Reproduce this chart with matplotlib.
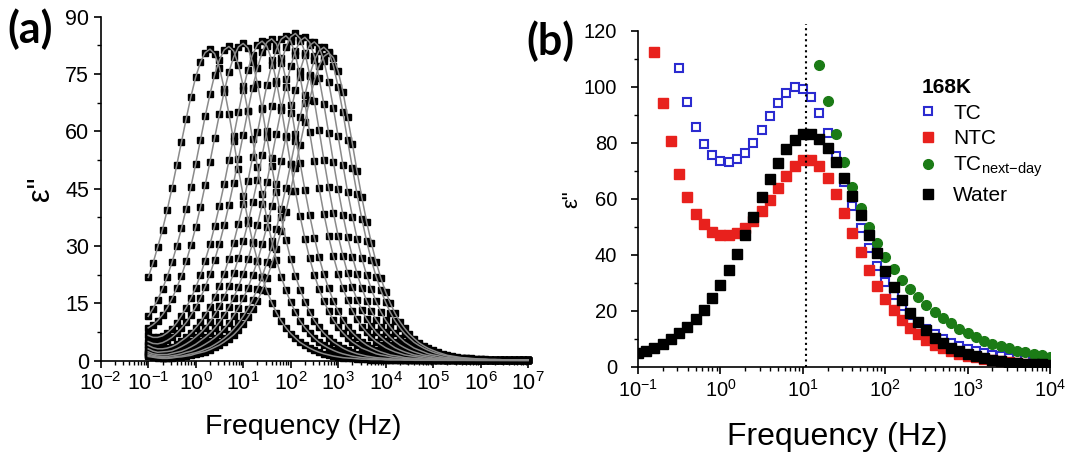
import matplotlib
matplotlib.use("Agg")
import matplotlib.pyplot as plt
from matplotlib.ticker import LogLocator, MultipleLocator, NullFormatter

plt.rcParams['font.family'] = ['Liberation Sans', 'DejaVu Sans']
plt.rcParams['mathtext.fontset'] = 'custom'
plt.rcParams['mathtext.rm'] = 'Liberation Sans'
plt.rcParams['mathtext.it'] = 'Liberation Sans:italic'
plt.rcParams['mathtext.bf'] = 'Liberation Sans:bold'

# measurement frequencies, 10 points per decade
mant = [1.0, 1.26, 1.58, 2.0, 2.51, 3.16, 3.98, 5.01, 6.31, 7.94]
freq_a = [m * 10.0 ** e for e in range(-1, 7) for m in mant] + [1e7]
freq_b = [m * 10.0 ** e for e in range(-1, 4) for m in mant] + [1e4]

# ---- panel (a): eps'' spectra, one list per temperature ----
tail = [0.5, 0.4, 0.4, 0.3, 0.3, 0.3, 0.2, 0.2, 0.2, 0.2, 0.2, 0.2,
        0.1, 0.1, 0.1, 0.1, 0.1, 0.1, 0.1, 0.1, 0.1, 0.1, 0.1, 0.1,
        0.1, 0.1, 0.1, 0.1, 0.1, 0.1, 0.1, 0.1, 0.1, 0.1, 0.1, 0.1,
        0.1, 0.1, 0.1, 0.1]

eps_a_1 = [21.8, 25.5, 29.7, 34.3, 39.4, 45.1, 51.1, 57.2, 63.3, 69.1, 74.2, 78.1, 80.6, 81.5,
           80.3, 76.7, 71.2, 64.6, 57.4, 50.1, 43.2, 36.8, 31.1, 26.2, 21.8, 18.3, 15.2, 12.6,
           10.4, 8.6, 7.1, 5.9, 4.8, 4.0, 3.3, 2.7, 2.2, 1.8, 1.5, 1.2, 1.0, 0.8, 0.7, 0.6]
eps_a_2 = [11.6, 13.6, 16.0, 18.8, 22.0, 25.7, 29.9, 34.6, 39.8, 45.5, 51.5, 57.7, 63.9, 69.7,
           74.8, 78.7, 81.3, 82.2,
           81.0, 77.4, 71.8, 65.2, 57.9, 50.6, 43.6, 37.2, 31.4, 26.4, 22.0, 18.4, 15.3, 12.7,
           10.4, 8.6, 7.2, 5.9, 4.8, 4.0, 3.3, 2.7, 2.2, 1.8, 1.5, 1.2, 1.0, 0.8, 0.7, 0.6]
eps_a_3 = [8.6, 9.4, 10.5, 12.0, 13.8, 16.2, 19.0, 22.2, 26.0, 30.2, 34.9, 40.2, 45.9, 52.0,
           58.3, 64.5, 70.4, 75.5, 79.5, 82.1, 83.0,
           81.8, 78.1, 72.5, 65.8, 58.4, 51.0, 44.0, 37.5, 31.7, 26.6, 22.2, 18.6, 15.4, 12.8,
           10.5, 8.7, 7.2, 6.0, 4.9, 4.1, 3.3, 2.7, 2.2, 1.8, 1.5, 1.2, 1.0, 0.8, 0.7, 0.6]
eps_a_4 = [6.6, 6.1, 6.1, 6.5, 7.3, 8.4, 9.9, 11.8, 13.9, 16.3, 19.1, 22.4, 26.2, 30.4, 35.2,
           40.5, 46.2, 52.4, 58.7, 65.0, 70.9, 76.1, 80.1, 82.7, 83.6,
           82.3, 78.7, 73.1, 66.3, 58.9, 51.4, 44.3, 37.8, 31.9, 26.8, 22.4, 18.7, 15.5, 12.9,
           10.6, 8.8, 7.3, 6.0, 4.9, 4.1, 3.3, 2.8, 2.3, 1.8, 1.5, 1.3, 1.0, 0.8, 0.7, 0.6]
eps_a_5 = [5.0, 4.5, 4.4, 4.7, 5.3, 6.1, 7.2, 8.5, 10.0, 11.9, 14.0, 16.4, 19.3, 22.6, 26.4,
           30.6, 35.4, 40.8, 46.6, 52.8, 59.1, 65.4, 71.4, 76.6, 80.7, 83.3, 84.2,
           82.9, 79.2, 73.6, 66.8, 59.3, 51.8, 44.6, 38.1, 32.2, 27.0, 22.6, 18.9, 15.7, 13.0,
           10.7, 8.8, 7.3, 6.1, 5.0, 4.1, 3.4, 2.8, 2.3, 1.9, 1.5, 1.3, 1.1, 0.8, 0.7, 0.6]
eps_a_6 = [4.0, 3.4, 3.1, 3.1, 3.3, 3.7, 4.3, 5.2, 6.1, 7.2, 8.6, 10.1, 12.0, 14.1, 16.6, 19.5,
           22.8, 26.6, 30.9, 35.8, 41.1, 47.0, 53.3, 59.7, 66.0, 72.1, 77.4, 81.4, 84.1, 85.0,
           83.7, 80.0, 74.3, 67.4, 59.8, 52.3, 45.1, 38.4, 32.5, 27.3, 22.8, 19.0, 15.8, 13.1,
           10.8, 8.9, 7.4, 6.1, 5.0, 4.2, 3.4, 2.8, 2.3, 1.9, 1.5, 1.3, 1.1, 0.9, 0.7, 0.6]
eps_a_7 = [3.1, 2.5, 2.2, 2.3, 2.4, 2.6, 3.1, 3.7, 4.4, 5.2, 6.2, 7.3, 8.6, 10.2, 12.1, 14.2,
           16.7, 19.6, 22.9, 26.8, 31.2, 36.0, 41.4, 47.3, 53.7, 60.1, 66.5, 72.6, 77.9, 82.0,
           84.7, 85.6,
           84.3, 80.6, 74.8, 67.9, 60.3, 52.6, 45.4, 38.7, 32.7, 27.5, 22.9, 19.2, 15.9, 13.2,
           10.9, 9.0, 7.4, 6.2, 5.1, 4.2, 3.4, 2.8, 2.3, 1.9, 1.5, 1.3, 1.1, 0.9, 0.7, 0.6]
eps_a_8 = [2.3, 1.8, 1.6, 1.6, 1.6, 1.9, 2.2, 2.5, 3.0, 3.6, 4.3, 5.2, 6.1, 7.2, 8.5, 10.1,
           11.9, 14.0, 16.5, 19.4, 22.7, 26.5, 30.8, 35.6, 40.9, 46.8, 53.0, 59.4, 65.7, 71.7,
           77.0, 81.0, 83.7, 84.6,
           83.3, 79.6, 73.9, 67.1, 59.6, 52.0, 44.8, 38.2, 32.3, 27.2, 22.7, 19.0, 15.7, 13.0,
           10.7, 8.9, 7.4, 6.1, 5.0, 4.1, 3.4, 2.8, 2.3, 1.9, 1.5, 1.3, 1.1, 0.8, 0.7, 0.6]
eps_a_9 = [1.8, 1.4, 1.2, 1.1, 1.1, 1.3, 1.5, 1.8, 2.2, 2.5, 3.0, 3.6, 4.3, 5.1, 6.0, 7.1, 8.4,
           9.9, 11.8, 13.8, 16.3, 19.1, 22.4, 26.1, 30.4, 35.1, 40.4, 46.1, 52.3, 58.5, 64.8,
           70.7, 75.9, 79.9, 82.5, 83.4,
           82.1, 78.5, 72.9, 66.1, 58.7, 51.3, 44.2, 37.7, 31.9, 26.8, 22.4, 18.7, 15.5, 12.8,
           10.6, 8.8, 7.3, 6.0, 4.9, 4.1, 3.3, 2.8, 2.3, 1.8, 1.5, 1.3, 1.0, 0.8, 0.7, 0.6]
eps_a_10 = [1.4, 1.1, 0.9, 0.8, 0.7, 0.9, 1.1, 1.2, 1.5, 1.8, 2.1, 2.5, 3.0, 3.5, 4.2, 5.0,
            5.9, 7.0, 8.3, 9.8, 11.6, 13.6, 16.0, 18.8, 22.0, 25.7, 29.8, 34.5, 39.7, 45.3,
            51.4, 57.6, 63.7, 69.5, 74.6, 78.6, 81.1, 82.0,
            80.8, 77.2, 71.7, 65.0, 57.7, 50.4, 43.5, 37.1, 31.3, 26.3, 22.0, 18.4, 15.3, 12.6,
            10.4, 8.6, 7.1, 5.9, 4.8, 4.0, 3.3, 2.7, 2.2, 1.8, 1.5, 1.2, 1.0, 0.8, 0.7, 0.6]
eps_a_11 = [1.1, 0.9, 0.7, 0.6, 0.6, 0.7, 0.9, 1.0, 1.2, 1.4, 1.8, 2.1, 2.4, 2.9, 3.5, 4.1,
            4.9, 5.8, 6.8, 8.1, 9.6, 11.4, 13.4, 15.7, 18.4, 21.6, 25.2, 29.3, 33.9, 39.0,
            44.5, 50.5, 56.5, 62.5, 68.3, 73.3, 77.1, 79.6, 80.5,
            79.3, 75.8, 70.4, 63.8, 56.7, 49.5, 42.7, 36.4, 30.8, 25.8, 21.6, 18.0, 15.0, 12.4,
            10.2, 8.5, 7.0, 5.8, 4.7, 3.9, 3.2, 2.7, 2.2, 1.8, 1.4, 1.2, 1.0, 0.8, 0.7, 0.6]

curves_a = [eps_a_1, eps_a_2, eps_a_3, eps_a_4, eps_a_5, eps_a_6,
            eps_a_7, eps_a_8, eps_a_9, eps_a_10, eps_a_11]

# ---- panel (b): 168 K, all series end at 1e4 Hz ----
tc = [106.7, 94.5, 85.8, 79.7, 75.7, 73.7, 73.1, 74.1, 76.4, 80.1, 84.6, 89.5, 94.2, 97.9,
      99.9, 99.4, 96.3, 90.7, 83.6, 75.3, 66.1, 57.4, 49.5, 42.3, 35.9, 30.3, 25.6, 21.7,
      18.5, 15.7, 13.3, 11.6, 9.9, 8.5, 7.3, 6.3, 5.5, 4.8, 4.2, 3.7, 3.2, 2.9, 2.5, 2.3,
      2.0, 1.8]
ntc = [112.4, 94.4, 80.5, 68.9, 60.7, 54.7, 50.9, 48.3, 47.1, 47.0, 47.9, 49.6, 52.2, 55.7,
       59.7, 64.0, 68.3, 71.9, 73.8, 73.8, 71.9, 67.3, 61.6, 55.1, 47.7, 40.9, 34.4, 29.0,
       24.2, 20.1, 16.8, 13.9, 11.6, 9.5, 7.9, 6.6, 5.5, 4.6, 3.9, 3.3, 2.8, 2.3, 1.9, 1.6,
       1.3, 1.1, 0.9, 0.8, 0.7]
tc_next_day = [107.7, 94.8, 83.2, 73.1, 64.2, 56.7, 50.1, 44.3, 39.2, 34.9, 31.1, 27.8,
               24.9, 22.2, 19.7, 17.5, 15.5, 13.6, 12.0, 10.5, 9.3, 8.2, 7.3, 6.6, 5.7, 5.1,
               4.5, 4.1, 3.6]
water = [4.8, 5.7, 6.8, 8.1, 9.8, 11.9, 14.2, 17.0, 20.4, 24.6, 29.1, 34.4, 40.4, 47.0,
         53.6, 60.5, 67.0, 72.9, 77.7, 81.2, 83.0, 83.0, 81.3, 78.2, 73.3, 67.6, 61.1, 54.1,
         47.1, 40.5, 34.2, 28.6, 23.7, 19.3, 15.9, 13.1, 10.4, 8.3, 6.8, 5.5, 4.4, 3.7, 3.0,
         2.4, 1.9, 1.5, 1.3, 1.1, 0.9, 0.8, 0.7]
peak_freq = 10.9

fig = plt.figure(figsize=(10.65, 4.53), dpi=100)
ax_a = fig.add_axes([0.0946, 0.2038, 0.4012, 0.7594])
ax_b = fig.add_axes([0.5991, 0.1905, 0.3869, 0.7411])

# panel (a)
for vals in curves_a:
    y = (vals + tail)[:len(freq_a)]
    x = freq_a[:len(y)]
    ax_a.plot(x, y, 's', color='black', markersize=3.8, zorder=2, clip_on=False)
    ax_a.plot(x, y, '-', color='#8a8a8a', lw=1.1, zorder=3, clip_on=False)

ax_a.set_xscale('log')
ax_a.set_xlim(1e-2, 1e7)
ax_a.set_ylim(0, 90)
ax_a.yaxis.set_major_locator(MultipleLocator(15))
ax_a.yaxis.set_minor_locator(MultipleLocator(7.5))
ax_a.xaxis.set_major_locator(LogLocator(base=10, numticks=20))
ax_a.xaxis.set_minor_locator(LogLocator(base=10, subs=range(2, 10), numticks=20))
ax_a.xaxis.set_minor_formatter(NullFormatter())
ax_a.set_ylabel('ε"', fontsize=22)
ax_a.yaxis.set_label_coords(-0.105, 0.5)
ax_a.set_xlabel('Frequency (Hz)', fontsize=20.5)
ax_a.xaxis.set_label_coords(0.473, -0.155)

# panel (b)
ax_b.plot(freq_b[-len(tc):], tc, 's', mfc='white', mec='#2b2bd0', mew=1.5,
          markersize=6, label='TC')
ax_b.plot(freq_b[-len(ntc):], ntc, 's', color='#e8211d', markersize=6.5, label='NTC')
ax_b.plot(freq_b[-len(tc_next_day):], tc_next_day, 'o', color='#1b7b16', markersize=7,
          label=r'TC$_{\mathregular{next{-}day}}$')
ax_b.plot(freq_b[-len(water):], water, 's', color='black', markersize=6.5, label='Water')
ax_b.axvline(peak_freq, ymax=1.02, color='black', ls=':', lw=1.5, clip_on=False)

ax_b.set_xscale('log')
ax_b.set_xlim(1e-1, 1e4)
ax_b.set_ylim(0, 120)
ax_b.yaxis.set_major_locator(MultipleLocator(20))
ax_b.yaxis.set_minor_locator(MultipleLocator(10))
ax_b.xaxis.set_major_locator(LogLocator(base=10, numticks=20))
ax_b.xaxis.set_minor_locator(LogLocator(base=10, subs=range(2, 10), numticks=20))
ax_b.xaxis.set_minor_formatter(NullFormatter())
ax_b.set_ylabel('ε"', fontsize=16)
ax_b.yaxis.set_label_coords(-0.135, 0.5)
ax_b.set_xlabel('Frequency (Hz)', fontsize=23)
ax_b.xaxis.set_label_coords(0.484, -0.165)

leg = ax_b.legend(title='168K', loc='upper left', bbox_to_anchor=(0.689, 0.86),
                  frameon=False, fontsize=15, title_fontsize=15, handlelength=0.6,
                  handletextpad=0.9, labelspacing=0.32, borderpad=0, borderaxespad=0,
                  alignment='left')
leg.get_title().set_fontweight('bold')

for ax in (ax_a, ax_b):
    for side in ('top', 'right'):
        ax.spines[side].set_visible(False)
    for side in ('left', 'bottom'):
        ax.spines[side].set_linewidth(1.2)
    ax.tick_params(which='major', direction='out', length=5, width=1.2, labelsize=15.5)
    ax.tick_params(which='minor', direction='out', length=3, width=1.0)
ax_b.tick_params(which='major', labelsize=14.5)
ax_b.tick_params(axis='y', which='major', pad=10)

fig.text(0.007, 0.935, '(a)', fontsize=31, fontweight='bold', family='Lato', va='center')
fig.text(0.494, 0.91, '(b)', fontsize=31, fontweight='bold', family='Lato', va='center')

fig.savefig('out.png', dpi=100)
